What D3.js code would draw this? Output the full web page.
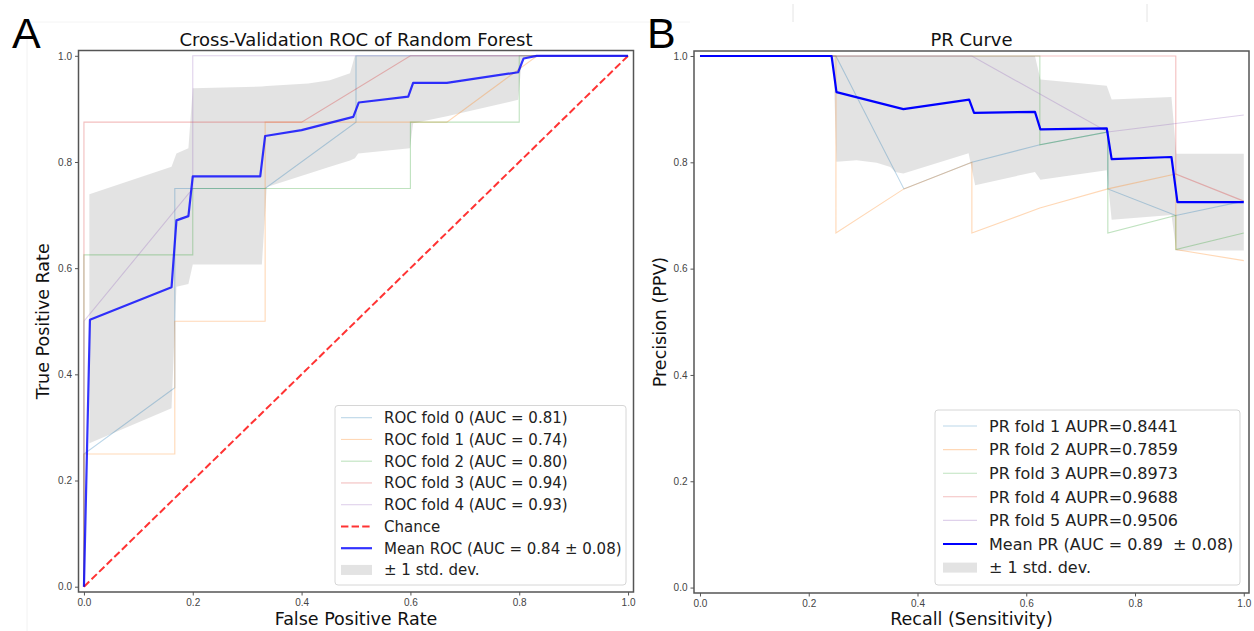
<!DOCTYPE html>
<html>
<head>
<meta charset="utf-8">
<script src="https://cdnjs.cloudflare.com/ajax/libs/d3/7.8.5/d3.min.js"></script>
<style>
body { margin: 0; background: #fff; }
svg { font-family: "DejaVu Sans", sans-serif; }
svg text { white-space: pre; }
.tick text { fill: #444; font-size: 10px; }
.tick line { stroke: #555; }
</style>
</head>
<body>
<svg id="fig" width="1254" height="631"></svg>
<script>
// ---------------- data ----------------
var foldColors = ["#1f77b4", "#ff7f0e", "#2ca02c", "#d62728", "#9467bd"];
var tickVals = [0, 0.2, 0.4, 0.6, 0.8, 1.0];

// ROC folds, [fpr, tpr]
var rocFold0 = [[0,0],[0,0.25],[0.167,0.375],[0.167,0.75],[0.333,0.75],[0.5,0.875],[0.5,1],[1,1]];
var rocFold1 = [[0,0],[0,0.25],[0.167,0.25],[0.167,0.5],[0.333,0.5],[0.333,0.875],[0.667,0.875],[0.833,1],[1,1]];
var rocFold2 = [[0,0],[0,0.625],[0.2,0.625],[0.2,0.75],[0.6,0.75],[0.6,0.875],[0.8,0.875],[0.8,1],[1,1]];
var rocFold3 = [[0,0],[0,0.875],[0.4,0.875],[0.6,1],[1,1]];
var rocFold4 = [[0,0],[0,0.5],[0.2,0.75],[0.2,1],[1,1]];
var rocMean = [[0,0],[0.011,0.503],[0.161,0.564],[0.17,0.69],[0.192,0.698],[0.2,0.773],[0.324,0.773],
  [0.333,0.849],[0.4,0.86],[0.495,0.885],[0.505,0.912],[0.596,0.923],[0.605,0.949],[0.667,0.949],
  [0.798,0.969],[0.808,0.995],[0.832,1],[1,1]];
var rocBandX =     [0.01, 0.161, 0.17, 0.192, 0.2, 0.327, 0.336, 0.412, 0.452, 0.489, 0.498, 0.504, 0.599, 0.605, 0.667, 0.798, 0.805, 0.83, 1.0];
var rocBandUpper = [0.739, 0.791, 0.816, 0.826, 0.939, 0.942, 0.943, 0.948, 0.954, 0.967, 1, 1, 1, 1, 1, 1, 1, 1, 1];
var rocBandLower = [0.27, 0.336, 0.565, 0.57, 0.607, 0.607, 0.753, 0.778, 0.791, 0.803, 0.807, 0.816, 0.826, 0.873, 0.886, 0.917, 0.995, 1, 1];
var rocLabels = ["ROC fold 0 (AUC = 0.81)", "ROC fold 1 (AUC = 0.74)", "ROC fold 2 (AUC = 0.80)",
  "ROC fold 3 (AUC = 0.94)", "ROC fold 4 (AUC = 0.93)", "Chance", "Mean ROC (AUC = 0.84 \u00b1 0.08)", "\u00b1 1 std. dev."];

// PR folds, [recall, precision]
var prFold1 = [[0,1],[0.25,1],[0.375,0.75],[0.5,0.8],[0.625,0.833],[0.75,0.857],[0.75,0.75],[0.875,0.7],[1,0.727]];
var prFold2 = [[0,1],[0.25,1],[0.25,0.667],[0.375,0.75],[0.5,0.8],[0.5,0.667],[0.625,0.714],[0.75,0.75],[0.875,0.778],[0.875,0.636],[1,0.615]];
var prFold3 = [[0,1],[0.625,1],[0.625,0.833],[0.75,0.857],[0.75,0.667],[0.875,0.7],[0.875,0.636],[1,0.667]];
var prFold4 = [[0,1],[0.875,1],[0.875,0.778],[1,0.727]];
var prFold5 = [[0,1],[0.5,1],[0.75,0.857],[1,0.889]];
var prMean = [[0,1],[0.242,1],[0.251,0.932],[0.374,0.9],[0.495,0.918],[0.504,0.893],[0.616,0.895],[0.626,0.862],
  [0.748,0.864],[0.757,0.806],[0.867,0.81],[0.878,0.725],[1,0.725]];
var prBandX =     [0.245, 0.251, 0.288, 0.325, 0.35, 0.359, 0.374, 0.494, 0.506, 0.616, 0.626, 0.748, 0.757, 0.867, 0.876, 1.0];
var prBandUpper = [1, 1, 1, 1, 1, 1, 1, 1, 1, 1, 0.956, 0.944, 0.918, 0.923, 0.816, 0.816];
var prBandLower = [1, 0.801, 0.804, 0.799, 0.791, 0.782, 0.779, 0.817, 0.757, 0.782, 0.767, 0.785, 0.692, 0.701, 0.634, 0.634];
var prLabels = ["PR fold 1 AUPR=0.8441", "PR fold 2 AUPR=0.7859", "PR fold 3 AUPR=0.8973",
  "PR fold 4 AUPR=0.9688", "PR fold 5 AUPR=0.9506", "Mean PR (AUC = 0.89  \u00b1 0.08)", "\u00b1 1 std. dev."];

var svg = d3.select("#fig");

// faint screenshot edges
svg.append("line").attr("x1", 27).attr("x2", 27).attr("y1", 22).attr("y2", 631).attr("stroke", "#f2f2f2");
svg.append("line").attr("x1", 27).attr("x2", 690).attr("y1", 22).attr("y2", 22).attr("stroke", "#f4f4f4");
[793, 1147].forEach(function(xx) {
  svg.append("line").attr("x1", xx).attr("x2", xx).attr("y1", 4).attr("y2", 22).attr("stroke", "#e4e4e4");
});

function panel(opt) {
  var x = d3.scaleLinear().domain(opt.xlim).range([opt.left, opt.right]);
  var y = d3.scaleLinear().domain(opt.ylim).range([opt.bottom, opt.top]);
  var g = svg.append("g");

  var line = d3.line().x(function(d) { return x(d[0]); }).y(function(d) { return y(d[1]); });

  // std band
  var band = opt.bandX.map(function(v, i) { return {x: v, lo: opt.bandLower[i], hi: opt.bandUpper[i]}; });
  g.append("path").datum(band)
    .attr("fill", "#808080").attr("fill-opacity", 0.22)
    .attr("d", d3.area().x(function(d) { return x(d.x); })
      .y0(function(d) { return y(d.lo); }).y1(function(d) { return y(d.hi); }));

  // folds
  opt.folds.forEach(function(f, i) {
    g.append("path").datum(f)
      .attr("fill", "none").attr("stroke", foldColors[i]).attr("stroke-opacity", 0.3)
      .attr("stroke-width", 1.1).attr("d", line);
  });

  if (opt.chance) {
    g.append("path").datum([[0,0],[1,1]])
      .attr("fill", "none").attr("stroke", "#ff0000").attr("stroke-opacity", 0.8)
      .attr("stroke-width", 2).attr("stroke-dasharray", "7.4,3.2").attr("d", line);
  }

  g.append("path").datum(opt.mean)
    .attr("fill", "none").attr("stroke", "#0000ff").attr("stroke-opacity", opt.meanAlpha)
    .attr("stroke-width", 2.2).attr("stroke-linejoin", "round").attr("d", line);

  // axes
  g.append("g").attr("transform", "translate(0," + opt.bottom + ")")
    .call(d3.axisBottom(x).tickValues(tickVals).tickFormat(d3.format(".1f")).tickSize(3.5).tickPadding(3))
    .call(function(a) { a.select(".domain").remove(); a.selectAll("text").attr("font-family", null); });
  g.append("g").attr("transform", "translate(" + opt.left + ",0)")
    .call(d3.axisLeft(y).tickValues(tickVals).tickFormat(d3.format(".1f")).tickSize(3.5).tickPadding(3))
    .call(function(a) { a.select(".domain").remove(); a.selectAll("text").attr("font-family", null); });

  g.append("rect")
    .attr("x", opt.left).attr("y", opt.top)
    .attr("width", opt.right - opt.left).attr("height", opt.bottom - opt.top)
    .attr("fill", "none").attr("stroke", "#555").attr("stroke-width", 1.5);

  var cx = (opt.left + opt.right) / 2;
  g.append("text").attr("x", cx).attr("y", 46).attr("text-anchor", "middle")
    .attr("font-size", 18).attr("fill", "#111").text(opt.title);
  g.append("text").attr("x", cx).attr("y", 625).attr("text-anchor", "middle")
    .attr("font-size", 17.5).attr("fill", "#111").text(opt.xlabel);
  g.append("text")
    .attr("transform", "translate(" + opt.ylabelX + "," + ((opt.top + opt.bottom) / 2) + ") rotate(-90)")
    .attr("text-anchor", "middle").attr("font-size", 17.5).attr("fill", "#111").text(opt.ylabel);

  svg.append("text").attr("x", opt.letterX).attr("y", 48)
    .attr("font-family", "Liberation Sans, Arial, sans-serif").attr("font-size", 43).attr("fill", "#000")
    .text(opt.letter);

  // legend
  var L = opt.legend;
  var lg = g.append("g");
  lg.append("rect").attr("x", L.x0).attr("y", L.y0).attr("width", L.x1 - L.x0).attr("height", L.y1 - L.y0)
    .attr("rx", 3).attr("fill", "#fff").attr("fill-opacity", 0.8).attr("stroke", "#d6d6d6");
  var items = lg.selectAll("g.item").data(opt.labels).enter().append("g").attr("class", "item")
    .attr("transform", function(d, i) { return "translate(0," + (L.first + i * L.step) + ")"; });
  items.each(function(d, i) {
    var it = d3.select(this);
    var kind = opt.kinds[i];
    if (kind === "band") {
      it.append("rect").attr("x", L.hx0).attr("y", -5).attr("width", L.hx1 - L.hx0).attr("height", 10)
        .attr("fill", "#808080").attr("fill-opacity", 0.22);
    } else {
      var ln = it.append("line").attr("x1", L.hx0).attr("x2", L.hx1).attr("y1", 0).attr("y2", 0);
      if (kind === "chance") {
        ln.attr("stroke", "#ff0000").attr("stroke-opacity", 0.8).attr("stroke-width", 2).attr("stroke-dasharray", "7.4,3.2");
      } else if (kind === "mean") {
        ln.attr("stroke", "#0000ff").attr("stroke-opacity", opt.meanAlpha).attr("stroke-width", 2.2);
      } else {
        ln.attr("stroke", foldColors[kind]).attr("stroke-opacity", 0.3).attr("stroke-width", 1.1);
      }
    }
    it.append("text").attr("x", L.tx).attr("y", 0).attr("dy", "0.36em")
      .attr("font-size", L.fs).attr("fill", "#222").text(d);
  });
}

panel({
  left: 78.5, right: 633.5, top: 50.5, bottom: 592,
  xlim: [-0.01, 1.01], ylim: [-0.01, 1.01],
  folds: [rocFold0, rocFold1, rocFold2, rocFold3, rocFold4],
  mean: rocMean, meanAlpha: 0.8, chance: true,
  bandX: rocBandX, bandUpper: rocBandUpper, bandLower: rocBandLower,
  title: "Cross-Validation ROC of Random Forest",
  xlabel: "False Positive Rate", ylabel: "True Positive Rate", ylabelX: 49,
  letter: "A", letterX: 12,
  labels: rocLabels, kinds: [0, 1, 2, 3, 4, "chance", "mean", "band"],
  legend: {x0: 335, x1: 626, y0: 405.5, y1: 585, first: 417.7, step: 21.75, hx0: 341, hx1: 372, tx: 384, fs: 15}
});

panel({
  left: 694, right: 1249, top: 51, bottom: 593,
  xlim: [-0.011, 1.0096], ylim: [-0.0102, 1.0094],
  folds: [prFold1, prFold2, prFold3, prFold4, prFold5],
  mean: prMean, meanAlpha: 1, chance: false,
  bandX: prBandX, bandUpper: prBandUpper, bandLower: prBandLower,
  title: "PR Curve",
  xlabel: "Recall (Sensitivity)", ylabel: "Precision (PPV)", ylabelX: 666,
  letter: "B", letterX: 647,
  labels: prLabels, kinds: [0, 1, 2, 3, 4, "mean", "band"],
  legend: {x0: 935, x1: 1240, y0: 410, y1: 585, first: 426, step: 23.6, hx0: 943, hx1: 977, tx: 989, fs: 16}
});
</script>
</body>
</html>
